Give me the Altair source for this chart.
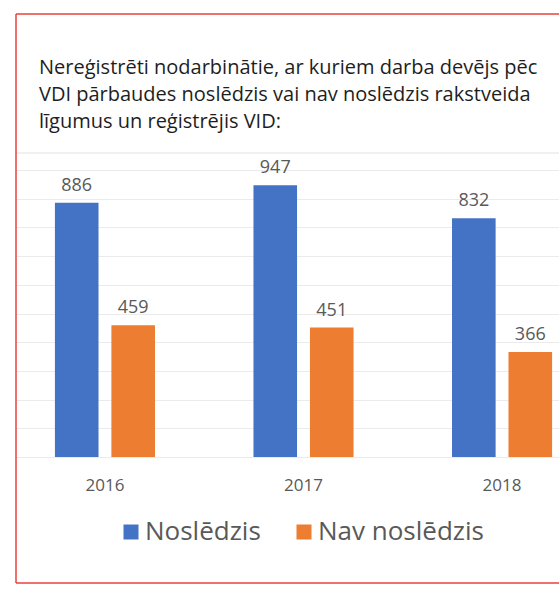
import altair as alt
import pandas as pd

years = ["2016", "2017", "2018"]
series = ["Noslēdzis", "Nav noslēdzis"]
nosledzis = [886, 947, 832]
nav_nosledzis = [459, 451, 366]
title_lines = [
    "Nereģistrēti nodarbinātie, ar kuriem darba devējs pēc",
    "VDI pārbaudes noslēdzis vai nav noslēdzis rakstveida",
    "līgumus un reģistrējis VID:",
]
grid_values = [0, 100, 200, 300, 400, 500, 600, 700, 800, 900, 1000]

rows = []
for i, y in enumerate(years):
    rows.append({"year": y, "series": series[0], "value": nosledzis[i]})
    rows.append({"year": y, "series": series[1], "value": nav_nosledzis[i]})
df = pd.DataFrame(rows)
years_df = pd.DataFrame({"year": years})
one = pd.DataFrame({"k": [0]})

W, H = 543, 569
FONT = "Open Sans"
GRAY = "#595959"
RED = "#e8423e"

xenc = alt.X("year:N", sort=years, axis=None,
             scale=alt.Scale(range=[0, 575], paddingInner=0.496, paddingOuter=0.196))
xoff = alt.XOffset("series:N", sort=series,
                   scale=alt.Scale(paddingInner=0.228, paddingOuter=0))
yenc = alt.Y("value:Q",
             scale=alt.Scale(domain=[0, 1000], range=[443, 156]),
             axis=alt.Axis(values=grid_values, grid=True, labels=False, ticks=False,
                           domain=False, title=None, gridColor="#ebebeb", gridWidth=1))

bars = alt.Chart(df).mark_bar().encode(
    x=xenc,
    xOffset=xoff,
    y=yenc,
    color=alt.Color("series:N", sort=series,
                    scale=alt.Scale(domain=series, range=["#4472C4", "#ED7D31"]),
                    legend=alt.Legend(orient="none", legendX=102, legendY=505,
                                      direction="horizontal", title=None,
                                      symbolType="square", symbolSize=225,
                                      symbolStrokeWidth=0,
                                      labelFontSize=26, labelFont=FONT,
                                      labelColor=GRAY, labelOffset=1,
                                      labelLimit=500,
                                      columnPadding=30, padding=0)),
)

values = alt.Chart(df).mark_text(
    baseline="alphabetic", dy=-12, fontSize=18, font=FONT, color=GRAY
).encode(
    x=alt.X("year:N", sort=years),
    xOffset=alt.XOffset("series:N", sort=series),
    y="value:Q",
    text="value:Q",
)

year_labels = alt.Chart(years_df).mark_text(
    baseline="middle", fontSize=17, font=FONT, color=GRAY
).encode(
    x=alt.X("year:N", sort=years),
    y=alt.value(472),
    text="year:N",
)

title = alt.Chart(one).mark_text(
    text=title_lines, align="left", baseline="alphabetic", lineHeight=27,
    fontSize=20, font=FONT, color="#1e1e1e"
).encode(x=alt.value(23), y=alt.value(60))

top_line = alt.Chart(one).mark_rule(color="#e2e2e2", strokeWidth=1).encode(
    x=alt.value(0), x2=alt.value(W), y=alt.value(139))

border_left = alt.Chart(one).mark_rule(color=RED, strokeWidth=1.5).encode(
    x=alt.value(0), y=alt.value(0), y2=alt.value(H))
border_top = alt.Chart(one).mark_rule(color=RED, strokeWidth=1.5).encode(
    x=alt.value(0), x2=alt.value(W + 10), y=alt.value(0))
border_bottom = alt.Chart(one).mark_rule(color=RED, strokeWidth=1.5).encode(
    x=alt.value(0), x2=alt.value(W + 10), y=alt.value(H))

chart = alt.layer(
    top_line, bars, values, year_labels, title, border_left, border_top, border_bottom
).properties(
    width=W, height=H,
    padding={"left": 16, "top": 14, "right": 0, "bottom": 6},
    autosize=alt.AutoSizeParams(type="none"),
    background="white",
).configure_view(stroke=None)

chart.save("out.html", embed_options={"renderer": "svg", "actions": False})
